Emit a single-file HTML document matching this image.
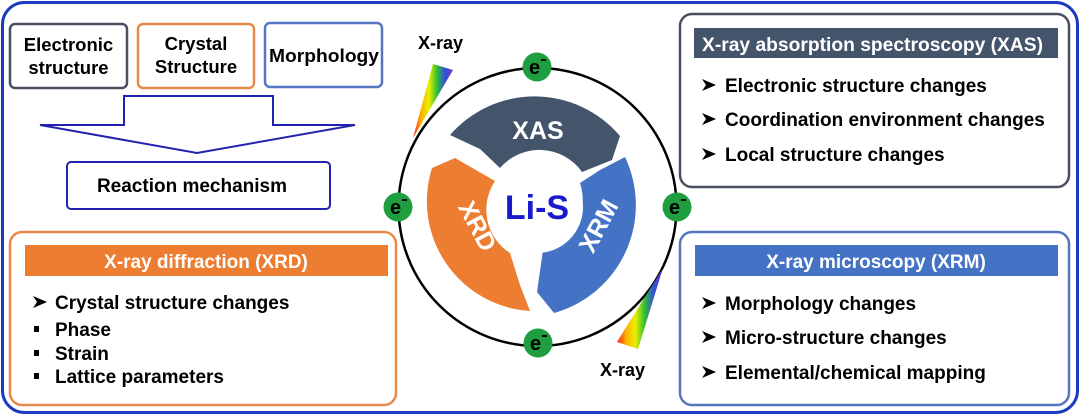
<!DOCTYPE html>
<html><head><meta charset="utf-8"><style>
body{margin:0;background:#fff;}
svg text{font-family:"Liberation Sans",Arial,sans-serif;font-weight:bold;}
</style></head><body>
<svg width="1080" height="415" viewBox="0 0 1080 415" xmlns="http://www.w3.org/2000/svg">
<defs>
<linearGradient id="rb1" x1="0" y1="0" x2="1" y2="0">
<stop offset="0" stop-color="#ff2020"/><stop offset="0.2" stop-color="#ffb000"/><stop offset="0.4" stop-color="#e8f000"/><stop offset="0.6" stop-color="#30c030"/><stop offset="0.8" stop-color="#3050e0"/><stop offset="1" stop-color="#8030c0"/>
</linearGradient>
<g id="arr"><polygon points="0,-6 14,0 0,6 4,0" fill="#000"/></g>
</defs>
<rect x="2.5" y="2.5" width="1075" height="410" rx="22" fill="#fff" stroke="#1c3cc0" stroke-width="3"/>

<rect x="10" y="24" width="117" height="64" rx="5" fill="#fff" stroke="#4a5060" stroke-width="2.5"/>
<text x="68.5" y="51" font-size="18.5" text-anchor="middle">Electronic</text>
<text x="68.5" y="74" font-size="18.5" text-anchor="middle">structure</text>
<rect x="138" y="24" width="116" height="64" rx="5" fill="#fff" stroke="#e8894a" stroke-width="2.5"/>
<text x="196" y="50" font-size="18.5" text-anchor="middle">Crystal</text>
<text x="196" y="73" font-size="18.5" text-anchor="middle">Structure</text>
<rect x="265" y="23" width="117" height="64" rx="5" fill="#fff" stroke="#5577c0" stroke-width="2.5"/>
<text x="269" y="62" font-size="18.5" textLength="110" lengthAdjust="spacingAndGlyphs">Morphology</text>

<polygon points="124,96 273,96 273,125 355,125 197,153 40,125 124,125" fill="#fff" stroke="#2222b0" stroke-width="2"/>
<rect x="67" y="162" width="263" height="47" rx="4" fill="#fff" stroke="#2222b0" stroke-width="2"/>
<text x="192" y="192" font-size="19" text-anchor="middle">Reaction mechanism</text>

<rect x="10" y="232" width="386" height="173" rx="12" fill="#fff" stroke="#e8894a" stroke-width="2.5"/>
<rect x="25" y="245" width="363" height="31" fill="#ed7d31"/>
<text x="206" y="268" font-size="19" fill="#fff" text-anchor="middle">X-ray diffraction (XRD)</text>
<use href="#arr" x="33" y="302"/>
<text x="55" y="309" font-size="19">Crystal structure changes</text>
<rect x="34" y="326" width="5" height="6" fill="#000"/><text x="55" y="336" font-size="19">Phase</text>
<rect x="34" y="350" width="5" height="6" fill="#000"/><text x="55" y="360" font-size="19">Strain</text>
<rect x="34" y="373" width="5" height="6" fill="#000"/><text x="55" y="383" font-size="19">Lattice parameters</text>

<rect x="680" y="14" width="389" height="173" rx="12" fill="#fff" stroke="#4a5060" stroke-width="2.5"/>
<rect x="694" y="28" width="364" height="30" fill="#44546a"/>
<text x="702" y="51" font-size="19" fill="#fff" textLength="341" lengthAdjust="spacingAndGlyphs">X-ray absorption spectroscopy (XAS)</text>
<use href="#arr" x="702" y="85"/><text x="725" y="92" font-size="19">Electronic structure changes</text>
<use href="#arr" x="702" y="119"/><text x="725" y="126" font-size="19">Coordination environment changes</text>
<use href="#arr" x="702" y="154"/><text x="725" y="161" font-size="19">Local structure changes</text>

<rect x="680" y="232" width="389" height="173" rx="12" fill="#fff" stroke="#5577c0" stroke-width="2.5"/>
<rect x="695" y="245" width="363" height="31" fill="#4472c4"/>
<text x="876" y="268" font-size="19" fill="#fff" text-anchor="middle">X-ray microscopy (XRM)</text>
<use href="#arr" x="702" y="303"/><text x="725" y="310" font-size="19">Morphology changes</text>
<use href="#arr" x="702" y="337"/><text x="725" y="344" font-size="19">Micro-structure changes</text>
<use href="#arr" x="702" y="372"/><text x="725" y="379" font-size="19">Elemental/chemical mapping</text>

<circle cx="537.5" cy="207" r="139" fill="none" stroke="#000" stroke-width="2.5"/>
<polygon points="433,64 453,70 413,138" fill="url(#rb1)"/>
<polygon points="617,342 638,349 663,268" fill="url(#rb1)"/>
<text x="418" y="49" font-size="18">X-ray</text>
<text x="600" y="376" font-size="18">X-ray</text>

<path d="M450,135 A112,112 0 0 1 620,136 L612,160 L582,172 A52,52 0 0 0 500,168 L480,149 Z" fill="#44546a"/>
<path d="M625,157 A112,112 0 0 1 554,313 L537,292 L543,250 A52,52 0 0 0 580,183 L600,170 Z" fill="#4472c4"/>
<path d="M530,311 A110,110 0 0 1 432,168 L455,158 L495,181 A52,52 0 0 0 510,253 L520,285 Z" fill="#ed7d31"/>
<circle cx="537" cy="207" r="46" fill="#fff"/>
<text x="537" y="219" font-size="34" fill="#1a1acc" text-anchor="middle">Li-S</text>
<text x="538" y="139" font-size="25" fill="#fff" text-anchor="middle">XAS</text>
<text x="0" y="0" font-size="25" fill="#fff" text-anchor="middle" transform="translate(470,230) rotate(62)">XRD</text>
<text x="0" y="0" font-size="25" fill="#fff" text-anchor="middle" transform="translate(606,230) rotate(-62)">XRM</text>

<g font-size="20" fill="#000">
<circle cx="537" cy="67" r="14.5" fill="#1e9e3e"/><text x="529" y="74">e</text><rect x="541" y="59" width="5" height="2"/>
<circle cx="398" cy="207" r="14.5" fill="#1e9e3e"/><text x="390" y="214">e</text><rect x="402" y="199" width="5" height="2"/>
<circle cx="677" cy="207" r="14.5" fill="#1e9e3e"/><text x="669" y="214">e</text><rect x="681" y="199" width="5" height="2"/>
<circle cx="538" cy="343" r="14.5" fill="#1e9e3e"/><text x="530" y="350">e</text><rect x="542" y="335" width="5" height="2"/>
</g>
</svg>
</body></html>
